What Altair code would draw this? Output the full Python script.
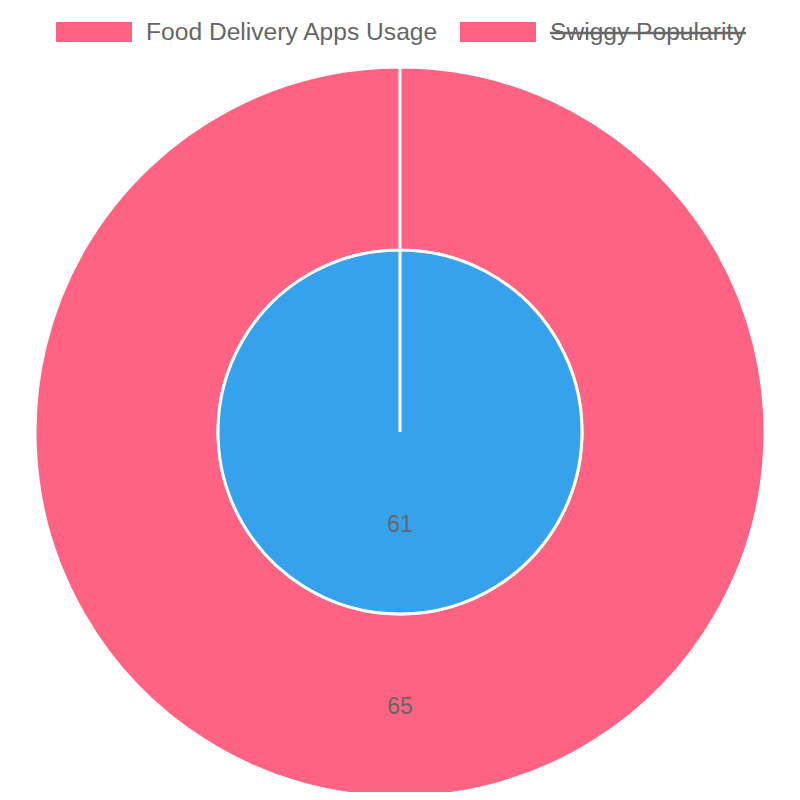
import altair as alt
import pandas as pd

# Data
datasets = ["Food Delivery Apps Usage", "Swiggy Popularity"]
values = [65, 61]
ring_colors = ["#FF6384", "#36A2EB"]
legend_colors = ["#FF6384", "#FF6384"]
legend_hidden = [False, True]

W, H = 784, 784
CX, CY = 392, 424
R_OUT, R_IN = 365, 182
TWO_PI_OPEN = 6.2831

outer_df = pd.DataFrame({"dataset": [datasets[0]], "value": [values[0]]})
inner_df = pd.DataFrame({"dataset": [datasets[1]], "value": [values[1]]})

def ring(df, color, inner, outer):
    base = alt.Chart(df)
    arc = base.mark_arc(
        x=CX, y=CY, innerRadius=inner, outerRadius=outer,
        stroke="white", strokeWidth=3, color=color
    ).encode(
        theta=alt.Theta("value:Q", stack=True,
                        scale=alt.Scale(range=[0, TWO_PI_OPEN]))
    )
    txt = base.mark_text(
        x=CX, y=CY, radius=(inner + outer) / 2, fontSize=23, dy=1.5,
        font="Liberation Sans", color="#666666", align="center", baseline="middle"
    ).encode(
        theta=alt.Theta("value:Q", stack=True,
                        scale=alt.Scale(range=[0, TWO_PI_OPEN])),
        text="value:Q"
    )
    return alt.layer(arc, txt).resolve_scale(theta="shared")

outer_layer = ring(outer_df, ring_colors[0], R_IN, R_OUT)
inner_layer = ring(inner_df, ring_colors[1], 0, R_IN)

# Legend (manual, for strikethrough support)
leg_x = [48, 452]
leg_df = pd.DataFrame({
    "label": datasets,
    "color": legend_colors,
    "x": leg_x,
    "x2": [x + 76 for x in leg_x],
    "tx": [x + 90 for x in leg_x],
    "hidden": legend_hidden,
})
leg_rect = alt.Chart(leg_df).mark_rect().encode(
    x=alt.X("x:Q", scale=None), x2="x2:Q",
    y=alt.value(14), y2=alt.value(34),
    color=alt.Color("color:N", scale=None),
)
leg_text = alt.Chart(leg_df).mark_text(
    align="left", baseline="middle", fontSize=24.6, font="Liberation Sans",
    color="#666666"
).encode(
    x=alt.X("tx:Q", scale=None), y=alt.value(24.5), text="label:N"
)
strike_df = leg_df[leg_df["hidden"]].copy()
strike_df["sx2"] = strike_df["tx"] + 196
leg_strike = alt.Chart(strike_df).mark_rule(color="#666666", strokeWidth=2.5).encode(
    x=alt.X("tx:Q", scale=None), x2="sx2:Q", y=alt.value(25)
)

chart = alt.layer(
    outer_layer, inner_layer, leg_rect, leg_text, leg_strike
).resolve_scale(theta="independent").properties(
    width=W, height=H, autosize=alt.AutoSizeParams(type="none"), padding=0
).configure_view(stroke=None)

chart.save("out.html", embed_options={"renderer": "svg", "actions": False})
